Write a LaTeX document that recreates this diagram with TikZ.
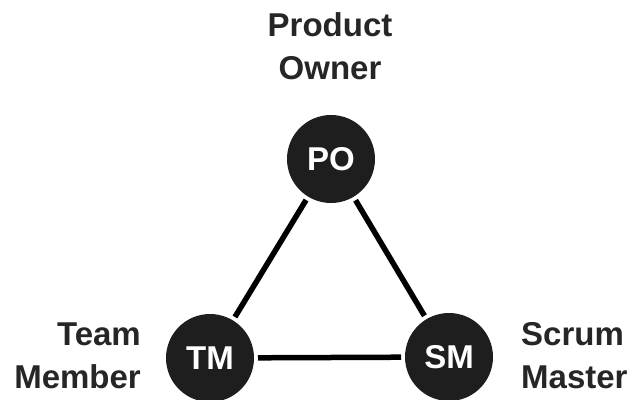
\documentclass[tikz,border=0pt]{standalone}
\usepackage{fontspec}
\setmainfont{Liberation Sans}
\definecolor{roledisc}{HTML}{1E1E1E}
\definecolor{roletext}{HTML}{262626}
\begin{document}
\begin{tikzpicture}[x=1pt,y=-1pt,
  role/.style={circle, fill=roledisc, minimum size=88pt, inner sep=0pt,
    outer sep=4pt, text=white, font=\fontsize{33}{33}\selectfont\bfseries},
  link/.style={line width=5.5pt, black},
  caption/.style={inner sep=0pt, text=roletext,
    font=\fontsize{33}{33}\selectfont\bfseries}]
  \useasboundingbox[fill=white] (0,0) rectangle (631,399);

  % the three roles
  \node[role] (po) at (331,159) {PO};
  \node[role] (tm) at (210,358) {TM};
  \node[role] (sm) at (449,357) {SM};

  % connections between the roles
  \draw[link] (po) -- (tm);
  \draw[link] (po) -- (sm);
  \draw[link] (tm) -- (sm);

  % role names
  \node[caption, anchor=base] (po1) at (330,36) {Product};
  \node[caption, anchor=base] (po2) at (330,79) {Owner};
  \node[caption, anchor=base east] (tm1) at (141,345) {Team};
  \node[caption, anchor=base east] (tm2) at (141,388) {Member};
  \node[caption, anchor=base west] (sm1) at (521,345) {Scrum};
  \node[caption, anchor=base west] (sm2) at (521,388) {Master};
\end{tikzpicture}
\end{document}
